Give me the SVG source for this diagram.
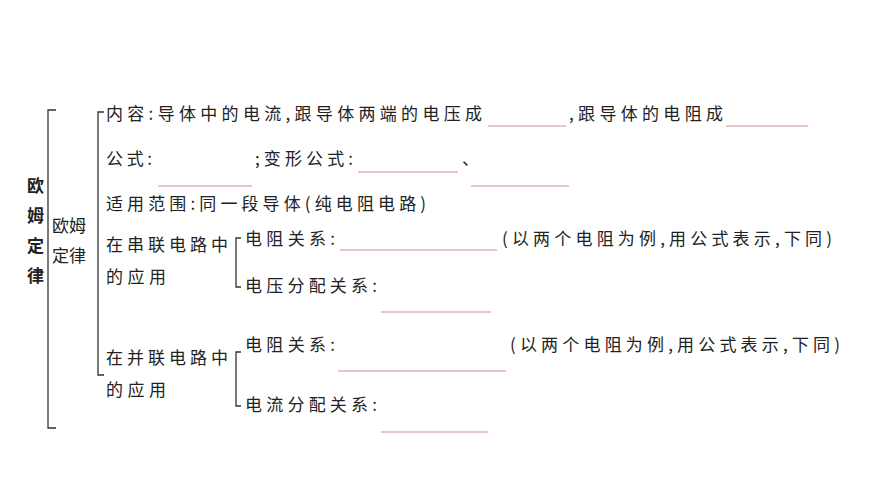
<svg xmlns="http://www.w3.org/2000/svg" width="870" height="489" viewBox="0 0 870 489">
<style>
text{font-family:"Noto Sans CJK SC","Noto Sans",sans-serif;font-size:17px;fill:#222}
.b{font-weight:bold}
.br{fill:none;stroke:#333;stroke-width:1.3}
.ln{stroke:#d48a9c;stroke-width:1}
</style>
<rect width="870" height="489" fill="#fff"/>
<g id="connectors">
<path class="br" d="M56,110 H48 V428 H56"/>
<path class="br" d="M104,112 H98 V375 H104"/>
<path class="br" d="M241,238 H236 V287 H241"/>
<path class="br" d="M241,352 H236 V406 H241"/>
</g>
<g id="root"><text class="b" x="27" y="192">欧</text><text class="b" x="27" y="222">姆</text><text class="b" x="27" y="252">定</text><text class="b" x="27" y="282">律</text></g>
<g id="law"><text x="52" y="232">欧姆</text><text x="52" y="262">定律</text></g>
<g id="content"><text x="106" y="120" textLength="376" lengthAdjust="spacing">内容:导体中的电流,跟导体两端的电压成</text><line class="ln" x1="488" y1="126" x2="566" y2="126"/><text x="569" y="120" textLength="154" lengthAdjust="spacing">,跟导体的电阻成</text><line class="ln" x1="726" y1="126" x2="808" y2="126"/></g>
<g id="formula"><text x="106" y="165" textLength="46" lengthAdjust="spacing">公式:</text><line class="ln" x1="158" y1="186" x2="252" y2="186"/><text x="255" y="165" textLength="98" lengthAdjust="spacing">;变形公式:</text><line class="ln" x1="358" y1="172" x2="458" y2="172"/><text x="462" y="165">、</text><line class="ln" x1="471" y1="186" x2="569" y2="186"/></g>
<g id="scope"><text x="106" y="210" textLength="320" lengthAdjust="spacing">适用范围:同一段导体(纯电阻电路)</text></g>
<g id="series"><text x="106" y="251" textLength="122" lengthAdjust="spacing">在串联电路中</text><text x="106" y="283" textLength="60" lengthAdjust="spacing">的应用</text>
<text x="245" y="245" textLength="90" lengthAdjust="spacing">电阻关系:</text><line class="ln" x1="340" y1="250" x2="497" y2="250"/><text x="502" y="245" textLength="330" lengthAdjust="spacing">(以两个电阻为例,用公式表示,下同)</text>
<text x="245" y="292" textLength="132" lengthAdjust="spacing">电压分配关系:</text><line class="ln" x1="381" y1="312" x2="491" y2="312"/></g>
<g id="parallel"><text x="106" y="364" textLength="122" lengthAdjust="spacing">在并联电路中</text><text x="106" y="396" textLength="60" lengthAdjust="spacing">的应用</text>
<text x="245" y="351" textLength="90" lengthAdjust="spacing">电阻关系:</text><line class="ln" x1="338" y1="371" x2="506" y2="371"/><text x="510" y="351" textLength="330" lengthAdjust="spacing">(以两个电阻为例,用公式表示,下同)</text>
<text x="245" y="411" textLength="132" lengthAdjust="spacing">电流分配关系:</text><line class="ln" x1="381" y1="432" x2="488" y2="432"/></g>
</svg>
